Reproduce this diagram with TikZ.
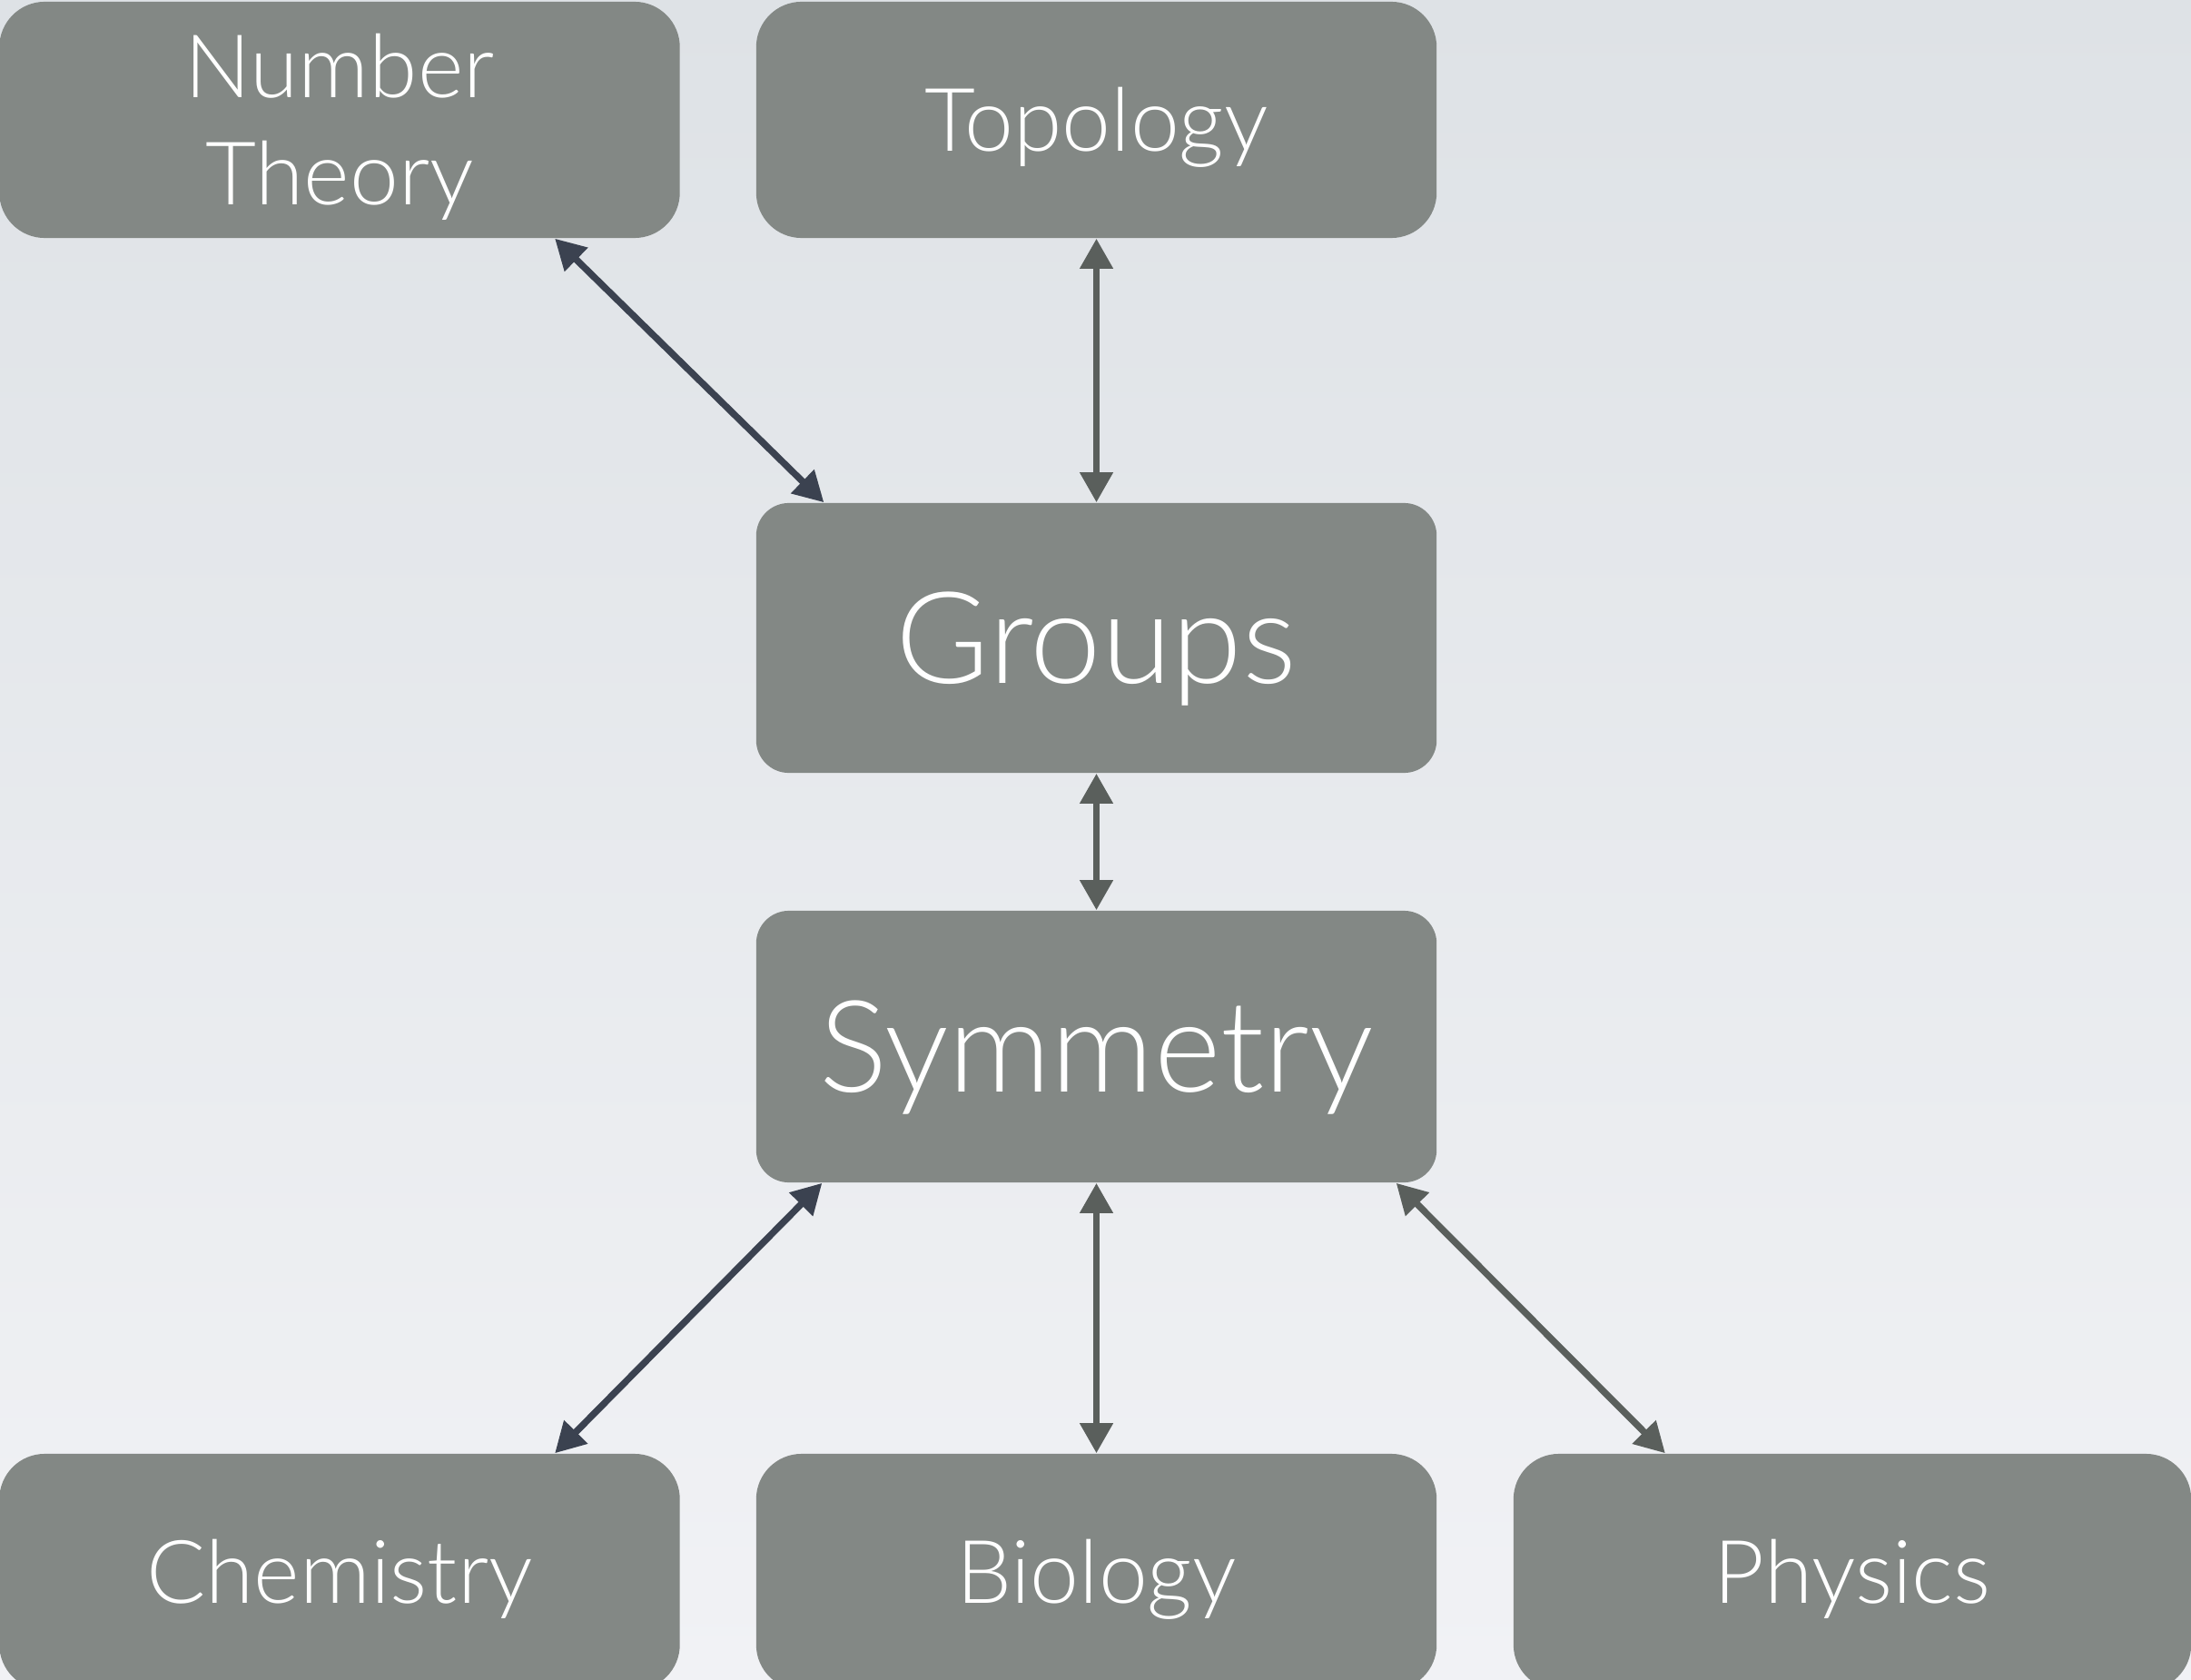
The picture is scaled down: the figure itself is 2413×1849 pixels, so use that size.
\documentclass[tikz,border=0pt]{standalone}
\usepackage{fontspec}
\setmainfont{Lato}[UprightFont={* Light}]
\usetikzlibrary{arrows.meta}
\definecolor{boxgray}{HTML}{838885}
\definecolor{arrdark}{HTML}{3B4250}
\definecolor{arrgray}{HTML}{5A5F5C}
\definecolor{bgtop}{HTML}{DEE2E6}
\definecolor{bgbot}{HTML}{F1F2F5}
\tikzset{
  box/.style={fill=boxgray, text=white, inner sep=0pt, align=center, minimum width=7.49cm},
  outerbox/.style={box, rounded corners=0.5cm, minimum height=2.6cm, font=\fontsize{27.5}{33.6}\selectfont, text height=19.7pt, text depth=0pt},
  midbox/.style={box, rounded corners=0.36cm, minimum height=2.97cm, font=\fontsize{40}{48}\selectfont, text height=28.7pt, text depth=0pt},
  biarrow/.style={line width=2.1pt, {Triangle[length=3.3mm,width=3.5mm]}-{Triangle[length=3.3mm,width=3.5mm]}}
}
\begin{document}
\begin{tikzpicture}[x=0.01cm,y=-0.01cm]
\useasboundingbox (0,0) rectangle (2413,1849);
\clip (0,0) rectangle (2413,1849);
\shade[top color=bgtop, bottom color=bgbot] (0,0) rectangle (2413,1849);
\node[outerbox, text height=53.3pt] (nt) at (374,132) {Number\\Theory};
\node[outerbox] (top) at (1207.5,132) {Topology};
\node[midbox] (grp) at (1207.5,702.5) {Groups};
\node[midbox, minimum height=2.99cm] (sym) at (1207.5,1152.5) {Symmetry};
\node[outerbox] (chem) at (374,1731) {Chemistry};
\node[outerbox] (bio) at (1207.5,1731) {Biology};
\node[outerbox, minimum width=7.46cm] (phys) at (2040,1731) {Physics};
\draw[biarrow, arrdark] ([xshift=2.37cm]nt.south) -- ([xshift=-3.0cm]grp.north);
\draw[biarrow, arrgray] (top.south) -- (grp.north);
\draw[biarrow, arrgray] (grp.south) -- (sym.north);
\draw[biarrow, arrdark] ([xshift=-3.02cm]sym.south) -- ([xshift=2.37cm]chem.north);
\draw[biarrow, arrgray] (sym.south) -- (bio.north);
\draw[biarrow, arrgray] ([xshift=3.3cm]sym.south) -- ([xshift=-2.06cm]phys.north);
\end{tikzpicture}
\end{document}
